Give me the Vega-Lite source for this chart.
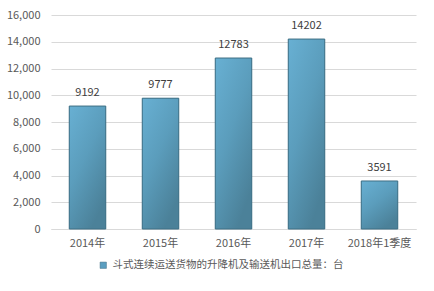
{
  "$schema": "https://vega.github.io/schema/vega-lite/v6.json",
  "width": 365,
  "height": 214,
  "autosize": {"type": "none"},
  "padding": {"left": 51, "top": 15, "right": 18, "bottom": 62},
  "background": "white",
  "config": {
    "font": "Noto Sans CJK SC",
    "view": {"stroke": null},
    "axis": {"labelFont": "Noto Sans CJK SC", "labelColor": "#595959", "labelFontSize": 11}
  },
  "data": {
    "values": [
      {"year": "2014年", "value": 9192, "series": "斗式连续运送货物的升降机及输送机出口总量：台"},
      {"year": "2015年", "value": 9777, "series": "斗式连续运送货物的升降机及输送机出口总量：台"},
      {"year": "2016年", "value": 12783, "series": "斗式连续运送货物的升降机及输送机出口总量：台"},
      {"year": "2017年", "value": 14202, "series": "斗式连续运送货物的升降机及输送机出口总量：台"},
      {"year": "2018年1季度", "value": 3591, "series": "斗式连续运送货物的升降机及输送机出口总量：台"}
    ]
  },
  "encoding": {
    "x": {
      "field": "year", "type": "nominal", "sort": null,
      "scale": {"paddingInner": 0.5, "paddingOuter": 0.25},
      "axis": {"title": null, "labelAngle": 0, "ticks": false, "domainColor": "#d9d9d9", "labelPadding": 8}
    },
    "y": {
      "field": "value", "type": "quantitative",
      "scale": {"domain": [0, 16000]},
      "axis": {"title": null, "values": [0,2000,4000,6000,8000,10000,12000,14000,16000], "format": ",d", "ticks": false, "domain": false, "gridColor": "#d9d9d9", "labelPadding": 11, "labelOverlap": false}
    }
  },
  "layer": [
    {
      "mark": {"type": "bar"},
      "encoding": {
        "color": {
          "field": "series", "type": "nominal",
          "scale": {"range": ["#5a9ec0"]},
          "legend": {"title": null, "orient": "none", "legendX": 47, "legendY": 245, "direction": "horizontal", "symbolType": "square", "symbolSize": 40, "labelFontSize": 10.5, "labelColor": "#595959", "labelLimit": 400, "symbolStrokeColor": "#3d6b80", "symbolStrokeWidth": 0.5}
        }
      }
    },
    {
      "mark": {
        "type": "bar",
        "stroke": "#3f6f84",
        "strokeWidth": 1,
        "fill": {
          "gradient": "linear", "x1": 0, "y1": 0, "x2": 0.6, "y2": 1,
          "stops": [
            {"offset": 0, "color": "#68b0d3"},
            {"offset": 0.5, "color": "#5b9dbc"},
            {"offset": 1, "color": "#4b8199"}
          ]
        }
      }
    },
    {
      "mark": {"type": "text", "baseline": "bottom", "dy": -8, "fontSize": 11, "color": "#404040"},
      "encoding": {"text": {"field": "value", "type": "quantitative", "format": "d"}}
    }
  ]
}
